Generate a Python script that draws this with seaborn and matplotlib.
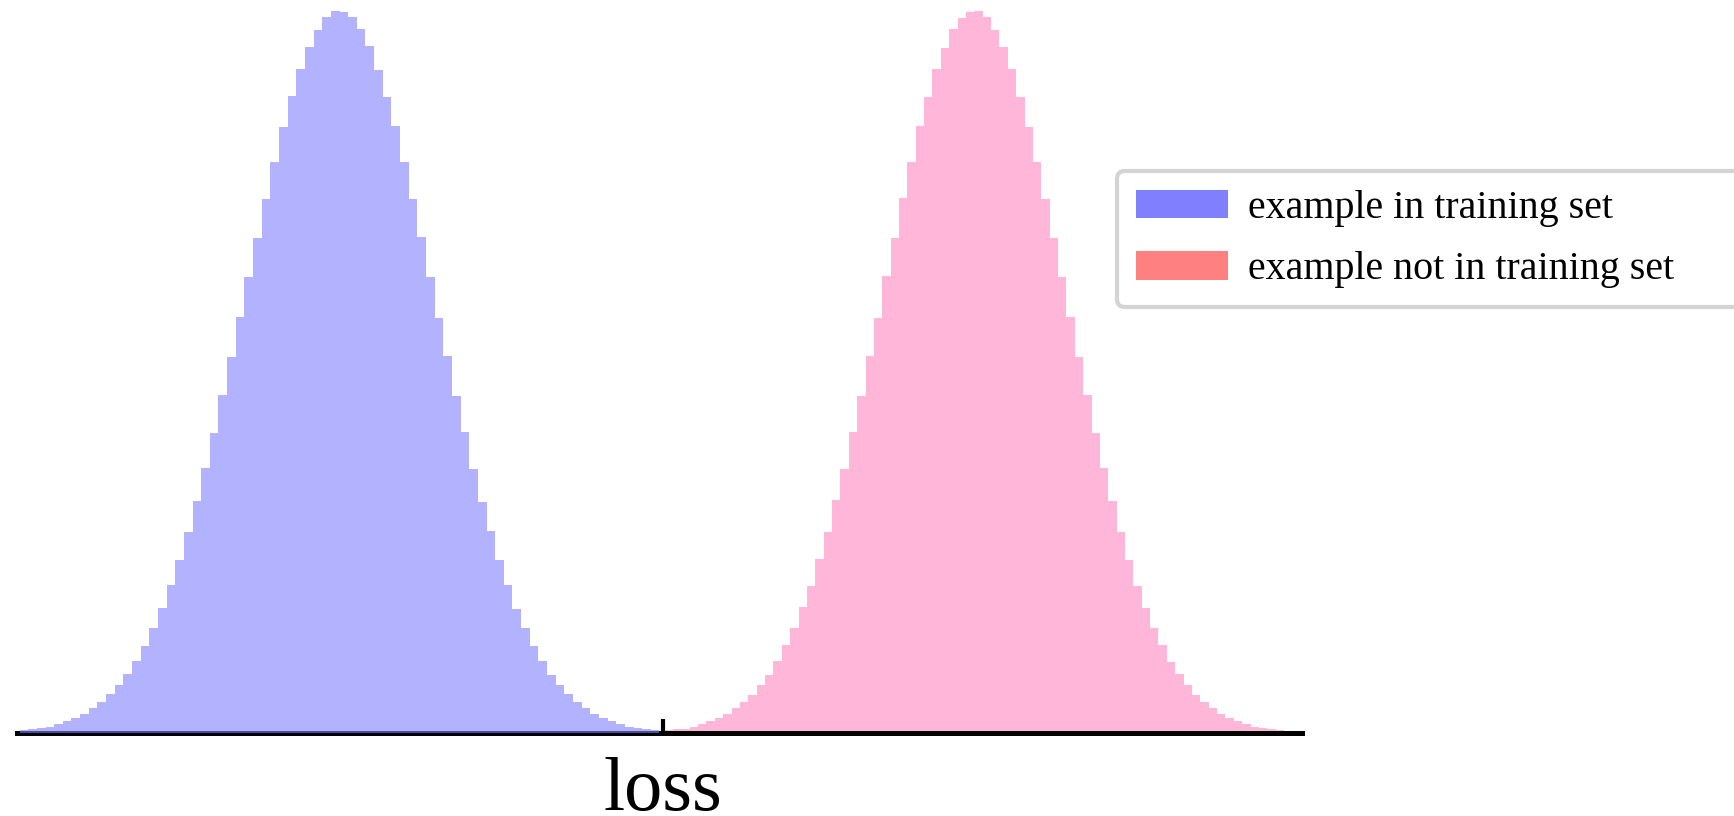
import numpy as np
import pandas as pd
import matplotlib
matplotlib.use("Agg")
import matplotlib.pyplot as plt
import seaborn as sns
from matplotlib.patches import Patch

# ---- data (bin heights, normalised to peak = 1) ----
labels = ["example in training set", "example not in training set"]
range_in = [0.002, 0.5]
range_out = [0.504, 0.986]
tick_positions = [0.503]
x_label = "loss"

heights_in = [0.004, 0.005, 0.007, 0.009, 0.012, 0.016, 0.021, 0.027, 0.034, 0.043,
              0.054, 0.066, 0.082, 0.100, 0.121, 0.146, 0.173, 0.205, 0.240, 0.279,
              0.321, 0.367, 0.416, 0.468, 0.521, 0.576, 0.632, 0.686, 0.740, 0.791,
              0.839, 0.882, 0.919, 0.950, 0.974, 0.991, 1.000,
              0.998, 0.992, 0.975, 0.951, 0.918, 0.880, 0.840, 0.790, 0.739, 0.687,
              0.631, 0.575, 0.522, 0.467, 0.417, 0.366, 0.320, 0.280, 0.239, 0.205,
              0.172, 0.146, 0.121, 0.100, 0.081, 0.066, 0.054, 0.043, 0.034, 0.027,
              0.021, 0.016, 0.012, 0.009, 0.007, 0.005, 0.004]

heights_out = [0.004, 0.005, 0.006, 0.009, 0.012, 0.016, 0.021, 0.027, 0.035, 0.043,
               0.053, 0.067, 0.081, 0.100, 0.122, 0.145, 0.174, 0.204, 0.241, 0.278,
               0.322, 0.366, 0.417, 0.467, 0.522, 0.575, 0.633, 0.685, 0.741, 0.790,
               0.840, 0.881, 0.920, 0.949, 0.975, 0.990, 0.999,
               1.000, 0.991, 0.974, 0.950, 0.919, 0.881, 0.839, 0.791, 0.740, 0.686,
               0.632, 0.576, 0.521, 0.468, 0.416, 0.367, 0.321, 0.279, 0.240, 0.204,
               0.173, 0.145, 0.122, 0.099, 0.082, 0.066, 0.053, 0.043, 0.034, 0.027,
               0.021, 0.016, 0.012, 0.009, 0.007, 0.005, 0.004]

# ---- styling ----
sns.set_style("white")
plt.rcParams["font.family"] = ["Liberation Serif", "DejaVu Serif"]
plt.rcParams["text.color"] = "black"
plt.rcParams["axes.labelcolor"] = "black"

W, H = 1734, 816
fig = plt.figure(figsize=(W / 100, H / 100), dpi=100)
ax = fig.add_axes([17 / W, 1 - 733 / H, 1285 / W, 733 / H])


def make_df(rng, heights):
    n = len(heights)
    edges = np.linspace(rng[0], rng[1], n + 1)
    centers = (edges[:-1] + edges[1:]) / 2
    return pd.DataFrame({"loss": centers, "w": heights})


df_in = make_df(range_in, heights_in)
df_out = make_df(range_out, heights_out)

sns.histplot(data=df_out, x="loss", weights="w", bins=len(heights_out),
             binrange=tuple(range_out), element="step", fill=True,
             color="#ffb6d9", alpha=1.0, linewidth=0, ax=ax, zorder=1)
sns.histplot(data=df_in, x="loss", weights="w", bins=len(heights_in),
             binrange=tuple(range_in), element="step", fill=True,
             color="#8080ff", alpha=0.6, linewidth=0, ax=ax, zorder=3)

ax.set_xlim(0, 1)
ax.set_ylim(0, 1.015)
ax.set_yticks([])
ax.set_ylabel("")
ax.set_xticks(tick_positions)
ax.tick_params(axis="x", direction="in", length=10, width=3, color="black",
               bottom=True, labelbottom=False)
for s in ["left", "right", "top"]:
    ax.spines[s].set_visible(False)
ax.spines["bottom"].set_linewidth(3.6)
ax.spines["bottom"].set_color("black")

ax.set_xlabel(x_label, fontsize=55, color="black")
ax.xaxis.set_label_coords(0.503, -77 / 733)
ax.xaxis.label.set_va("baseline")

fs = 28.8
handles = [Patch(facecolor="#8080ff", linewidth=0, label=labels[0]),
           Patch(facecolor="#ff8080", linewidth=0, label=labels[1])]
leg = fig.legend(handles=handles, loc="upper left",
                 bbox_to_anchor=(1117 / W, 1 - 305 / H, 700 / W, 134 / H),
                 bbox_transform=fig.transFigure, mode="expand", borderaxespad=0,
                 fontsize=fs, frameon=True, fancybox=True, framealpha=1,
                 edgecolor="#d4d4d4", borderpad=0.47, labelspacing=0.6,
                 handlelength=2.30, handleheight=0.72, handletextpad=0.5)
leg.get_frame().set_linewidth(3)
for t in leg.get_texts():
    t.set_color("black")

fig.savefig("out.png", dpi=100)
